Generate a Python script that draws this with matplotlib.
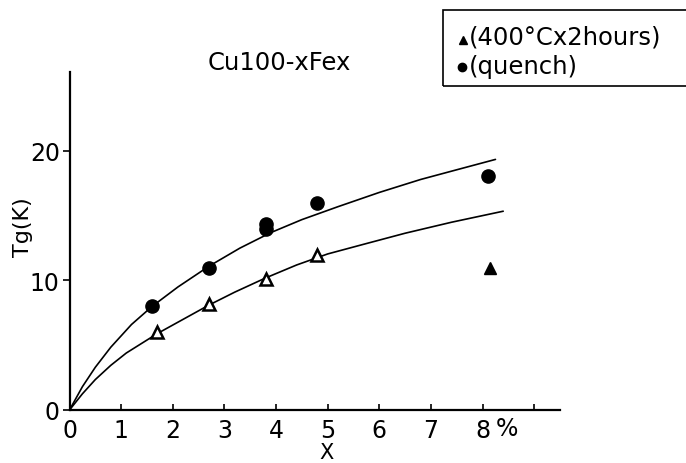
#!/usr/bin/env python3

import matplotlib
matplotlib.use("Agg")
from matplotlib import pyplot as plt
from matplotlib.lines import Line2D
from matplotlib.patches import Rectangle

# Measured points, quenched samples (filled circles)
quench_x = [1.6, 2.7, 3.8, 3.8, 4.8, 8.1]
quench_tg = [8.0, 11.0, 14.0, 14.35, 16.0, 18.05]

# Annealed 400C x 2 hours (open triangles), last one drawn filled
anneal_x = [1.7, 2.7, 3.8, 4.8]
anneal_tg = [6.0, 8.15, 10.1, 12.0]
anneal_odd_x = [8.15]
anneal_odd_tg = [11.0]

# Hand drawn guide curves
upper_x = [0, 0.25, 0.5, 0.8, 1.2, 1.6, 2.1, 2.7, 3.3, 3.9, 4.5, 5.2, 6.0, 6.8, 7.5, 8.25]
upper_tg = [0, 1.8, 3.3, 4.85, 6.6, 8.0, 9.5, 11.1, 12.5, 13.7, 14.7, 15.7, 16.8, 17.8, 18.55, 19.35]
lower_x = [0, 0.25, 0.5, 0.8, 1.1, 1.7, 2.2, 2.7, 3.2, 3.8, 4.4, 5.0, 5.7, 6.5, 7.4, 8.4]
lower_tg = [0, 1.25, 2.35, 3.45, 4.4, 5.9, 7.0, 8.1, 9.1, 10.2, 11.2, 12.05, 12.8, 13.65, 14.5, 15.35]

x_ticks = [0, 1, 2, 3, 4, 5, 6, 7, 8, 9]
x_labels = ["0", "1", "2", "3", "4", "5", "6", "7", "8", ""]
y_ticks = [0, 10, 20]
y_labels = ["0", "10", "20"]

W, H = 686, 464


def fx(px):
    return px / W


def fy(py):
    return 1 - py / H


def main():
    fig = plt.figure(figsize=(W / 100, H / 100), dpi=100)
    ax = fig.add_axes([fx(69.5), fy(411), fx(560 - 69.5), (411 - 73) / H])

    for xs, ys in ((upper_x, upper_tg), (lower_x, lower_tg)):
        ax.plot(xs, ys, color="black", lw=1.2, solid_capstyle="round",
                solid_joinstyle="round")

    ax.plot(quench_x, quench_tg, "o", color="black", ms=9.5, ls="none")
    ax.plot(anneal_x, anneal_tg, "^", mfc="white", mec="black", mew=1.8,
            ms=9, ls="none")
    ax.plot(anneal_odd_x, anneal_odd_tg, "^", color="black", ms=9, ls="none")

    ax.set_xlim(0, 9.5)
    ax.set_ylim(0, 26.1)
    for side in ("top", "right"):
        ax.spines[side].set_visible(False)
    for side in ("left", "bottom"):
        ax.spines[side].set_linewidth(1.6)

    ax.set_xticks(x_ticks)
    ax.set_xticklabels(x_labels)
    ax.set_yticks(y_ticks)
    ax.set_yticklabels(y_labels)
    ax.tick_params(axis="x", direction="in", length=4, width=1.2, pad=6,
                   labelsize=17)
    ax.tick_params(axis="y", direction="out", length=5, width=1.2, pad=2,
                   labelsize=17)
    fig.text(fx(507), fy(429), "%", ha="center", va="center", fontsize=17)

    fig.text(fx(23), fy(227), "Tg(K)", rotation=90, ha="center", va="center",
             fontsize=16)
    fig.text(fx(327), fy(453), "X", ha="center", va="center", fontsize=15)
    fig.text(fx(279), fy(63), "Cu100-xFex", ha="center", va="center",
             fontsize=17.5)

    # boxed key in the top right corner, runs off the edge
    box = Rectangle((fx(443), fy(87)), fx(260), (87 - 11) / H,
                    transform=fig.transFigure, fill=False, lw=1.2,
                    edgecolor="black", clip_on=False)
    fig.add_artist(box)
    fig.add_artist(Line2D([fx(463)], [fy(41)], marker="^", color="black",
                          ms=6, transform=fig.transFigure))
    fig.add_artist(Line2D([fx(462)], [fy(68)], marker="o", color="black",
                          ms=6, transform=fig.transFigure))
    fig.text(fx(469), fy(38), "(400°Cx2hours)", ha="left", va="center",
             fontsize=17.5)
    fig.text(fx(469), fy(67), "(quench)", ha="left", va="center",
             fontsize=17.5)

    fig.savefig("out.png", dpi=100)


if __name__ == "__main__":
    main()
